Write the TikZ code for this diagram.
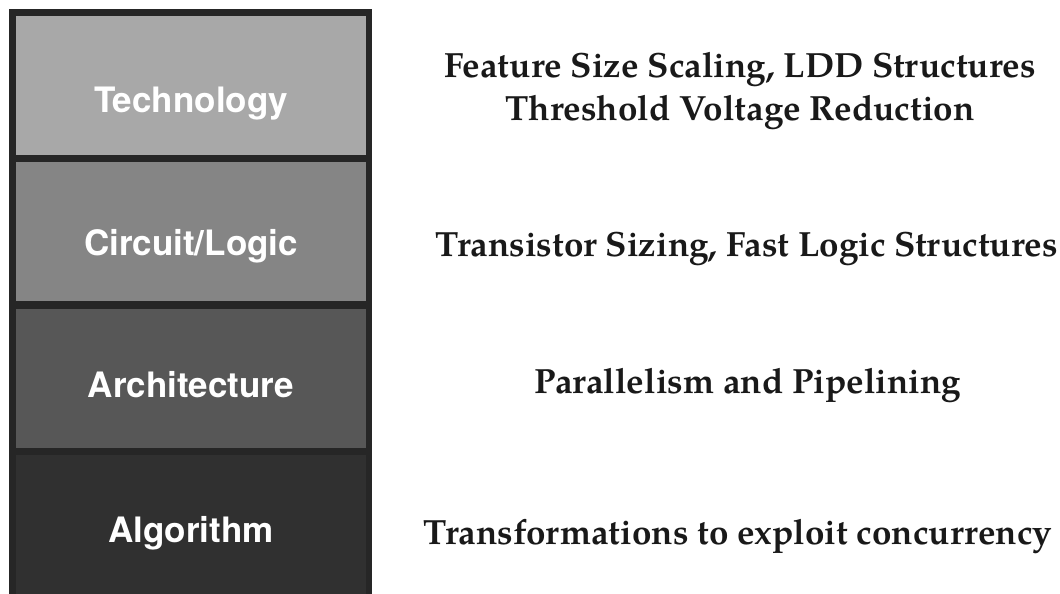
\documentclass[tikz,border=0pt]{standalone}
\usepackage{fontspec}
\setmainfont{texgyrepagella}[Extension=.otf,UprightFont=*-regular,BoldFont=*-bold]
\newfontfamily\boxfont{TeX Gyre Heros}
\definecolor{framegray}{gray}{0.15}
\definecolor{techgray}{gray}{0.66}
\definecolor{circgray}{gray}{0.52}
\definecolor{archgray}{gray}{0.34}
\definecolor{algogray}{gray}{0.19}
\newcommand{\layer}[5]{\node[layerbox, fill=#2] (#1) at (191,#3) {}; \node[layertext] (#1txt) at (191,#4) {#5};}

\begin{document}
\begin{tikzpicture}[x=1pt, y=-1pt,
  layerbox/.style = {minimum width=350, minimum height=139, inner sep=0},
  layertext/.style = {anchor=base, text=white, font=\boxfont\bfseries\fontsize{35}{35}\selectfont},
  method/.style = {anchor=base, align=center, text=black!90, font=\bfseries\fontsize{35}{43}\selectfont}]
\useasboundingbox (0,0) rectangle (1060,594);
\fill[framegray] (9,9) rectangle (372,594);
\layer{tech}{techgray}{85.5}{112}{Technology}
\layer{circ}{circgray}{231.5}{255}{Circuit/Logic}
\layer{arch}{archgray}{378.5}{397}{Architecture}
\layer{algo}{algogray}{524.5}{542}{Algorithm}
% base of a two-line node is its last line
\node[method] (techm) at (740,120) {Feature Size Scaling, LDD Structures\\Threshold Voltage Reduction};
\node[method] (circm) at (747,256) {Transistor Sizing, Fast Logic Structures};
\node[method] (archm) at (748,393) {Parallelism and Pipelining};
\node[method] (algom) at (738,544) {Transformations to exploit concurrency};
\end{tikzpicture}
\end{document}
